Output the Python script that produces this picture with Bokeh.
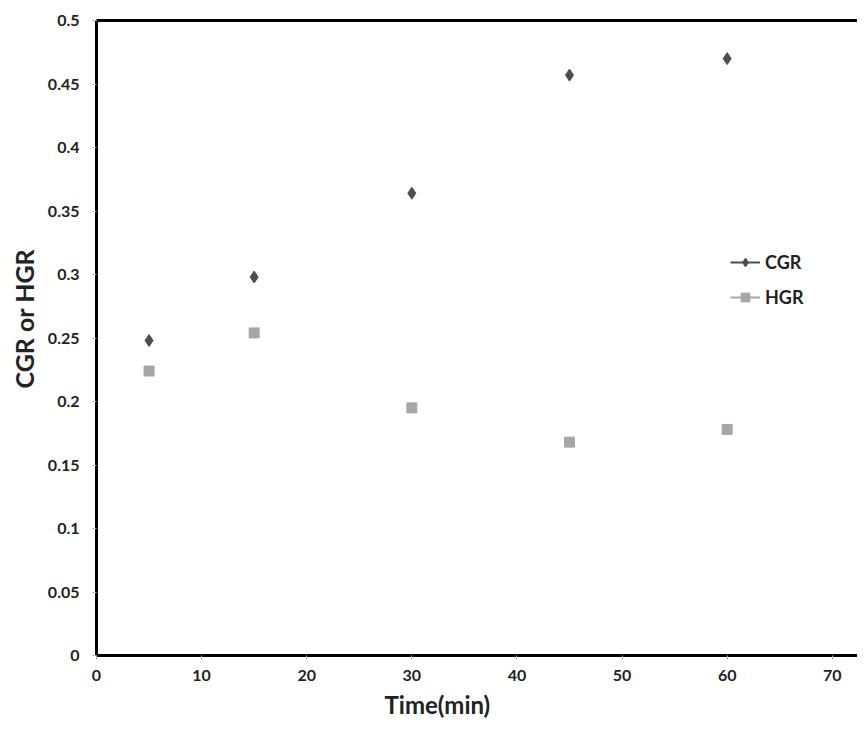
from bokeh.plotting import figure
from bokeh.models import Range1d, FixedTicker, LinearAxis, Legend, LegendItem, ColumnDataSource, Title
from bokeh.embed import file_html
from bokeh.resources import INLINE

time_min = [5, 15, 30, 45, 60]
cgr = [0.248, 0.298, 0.364, 0.457, 0.470]
hgr = [0.224, 0.254, 0.195, 0.168, 0.178]

x_ticks = [0, 10, 20, 30, 40, 50, 60, 70]
y_ticks = [0, 0.05, 0.1, 0.15, 0.2, 0.25, 0.3, 0.35, 0.4, 0.45, 0.5]
y_labels = ["0", "0.05", "0.1", "0.15", "0.2", "0.25", "0.3", "0.35", "0.4", "0.45", "0.5"]

FONT = "Lato"

p = figure(width=857, height=728, output_backend="svg", toolbar_location=None,
           x_range=Range1d(0, 72.4), y_range=Range1d(0, 0.5),
           min_border_left=95, min_border_right=0, min_border_top=20, min_border_bottom=73)
p.outline_line_color = None
p.xgrid.visible = False
p.ygrid.visible = False
p.background_fill_color = "white"

for ax in (p.xaxis[0], p.yaxis[0]):
    ax.axis_line_width = 3
    ax.axis_line_color = "black"
    ax.major_tick_line_color = "#b0b0b0"
    ax.major_tick_out = 4
    ax.major_tick_in = 0
    ax.minor_tick_line_color = None
    ax.major_label_text_font = FONT
    ax.major_label_text_font_style = "bold"
    ax.major_label_text_font_size = "16px"
    ax.major_label_text_color = "#222222"

p.xaxis[0].ticker = FixedTicker(ticks=x_ticks)
p.yaxis[0].ticker = FixedTicker(ticks=y_ticks)
p.yaxis[0].major_label_overrides = {t: l for t, l in zip(y_ticks, y_labels)}
p.xaxis[0].major_label_standoff = 10
p.yaxis[0].major_label_standoff = 13

xlab = Title(text="Time(min)", align="left", offset=288, standoff=8,
             text_font=FONT, text_font_style="bold", text_font_size="24px",
             text_color="#222222")
p.add_layout(xlab, "below")
ylab = Title(text="CGR or HGR", align="left", offset=267, standoff=12,
             text_font=FONT, text_font_style="bold", text_font_size="25px",
             text_color="#222222")
p.add_layout(ylab, "left")

top = LinearAxis(ticker=FixedTicker(ticks=[]), major_label_text_font_size="0px",
                 axis_line_width=3, axis_line_color="black",
                 major_tick_line_color=None, minor_tick_line_color=None)
p.add_layout(top, "above")

src = ColumnDataSource(dict(t=time_min, cgr=cgr, hgr=hgr))
r_c = p.scatter("t", "cgr", source=src, marker="diamond", size=12,
                fill_color="#4d4d4d", line_color="#4d4d4d")
r_h = p.scatter("t", "hgr", source=src, marker="square", size=10,
                fill_color="#a6a6a6", line_color="#a6a6a6")

nan = float("nan")
empty = ColumnDataSource(dict(x=[nan], y=[nan]))
l_c = p.line("x", "y", source=empty, line_color="#4d4d4d", line_width=2)
l_h = p.line("x", "y", source=empty, line_color="#a6a6a6", line_width=2)

legend = Legend(items=[LegendItem(label="CGR", renderers=[l_c, r_c]),
                       LegendItem(label="HGR", renderers=[l_h, r_h])],
                location=(634, 347), border_line_color=None, background_fill_alpha=0,
                label_text_font=FONT, label_text_font_style="bold",
                label_text_font_size="18px", label_text_color="#222222",
                glyph_width=30, glyph_height=22, label_height=22,
                spacing=13, label_standoff=5)
p.add_layout(legend, "center")

open("out.html", "w").write(file_html(p, INLINE))
